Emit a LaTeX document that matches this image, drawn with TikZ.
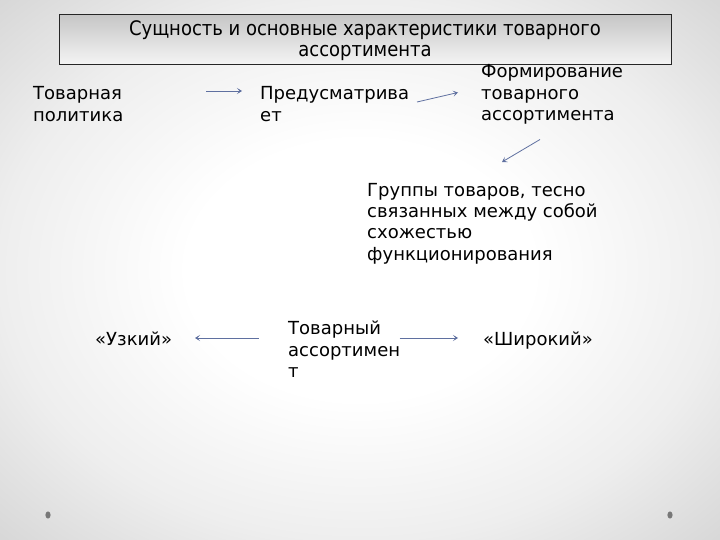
\documentclass[tikz,border=0pt]{standalone}
\usepackage{fontspec}
\setmainfont{DejaVu Sans}
\newfontfamily\titlefont{DejaVu Sans Condensed}
\usetikzlibrary{arrows.meta}
\definecolor{arrowc}{RGB}{95,112,160}
\definecolor{dotc}{RGB}{120,120,120}
\definecolor{bgmid}{RGB}{238,238,238}
\definecolor{bgout}{RGB}{214,214,214}
\pgfdeclareradialshading{slidebg}{\pgfpoint{0bp}{0bp}}{%
  color(0bp)=(white); color(12bp)=(white); color(25bp)=(bgmid); color(36bp)=(bgout); color(50bp)=(bgout)}
\tikzset{
  txt/.style={anchor=base west, inner sep=0pt, align=left, font=\fontsize{18}{21.5}\selectfont},
  conn/.style={draw=arrowc, line width=0.8pt, -{Stealth[length=5pt,width=6pt,inset=2.5pt]}},
  titlebox/.style={draw=black!85, line width=1pt, top color=gray!45, bottom color=gray!8, inner sep=0pt},
}
\begin{document}
\begin{tikzpicture}[x=1pt,y=-1pt]
\useasboundingbox (0,0) rectangle (720,540);
\shade[shading=slidebg] (0,0) rectangle (720,540);
% title
\path[titlebox] (59,14.5) rectangle (671,65);
\node (title) [inner sep=0pt, align=center, font=\titlefont\fontsize{20}{21}\selectfont, anchor=base] at (365,57) {Сущность и основные характеристики товарного\\ассортимента};
% texts (anchored at the baseline of the last line)
\node[txt] (pol) at (33,121.5) {Товарная\\политика};
\node[txt] (pred) at (260,121.5) {Предусматрива\\ет};
\node[txt] (form) at (481,121) {Формирование\\товарного\\ассортимента};
\node[txt] (grp) at (367,260.5) {Группы товаров, тесно\\связанных между собой\\схожестью\\функционирования};
\node[txt] (ass) at (288,377.5) {Товарный\\ассортимен\\т};
\node[txt] (narrow) at (95,345) {«Узкий»};
\node[txt] (wide) at (483,345) {«Широкий»};
% connector endpoints
\coordinate (a1s) at (206,91);  \coordinate (a1e) at (242,91);
\coordinate (a2s) at (417,102); \coordinate (a2e) at (458,92.5);
\coordinate (a3s) at (540,139.5); \coordinate (a3e) at (502,162);
\coordinate (a4s) at (258.5,338); \coordinate (a4e) at (195,338);
\coordinate (a5s) at (399.5,338); \coordinate (a5e) at (458,338);
\draw[conn] (a1s) -- (a1e);
\draw[conn] (a2s) -- (a2e);
\draw[conn] (a3s) -- (a3e);
\draw[conn] (a4s) -- (a4e);
\draw[conn] (a5s) -- (a5e);
% decorative dots
\fill[dotc] (48,515) ellipse (2.6pt and 3.6pt);
\fill[dotc] (670,515) ellipse (2.6pt and 3.6pt);
\end{tikzpicture}
\end{document}
